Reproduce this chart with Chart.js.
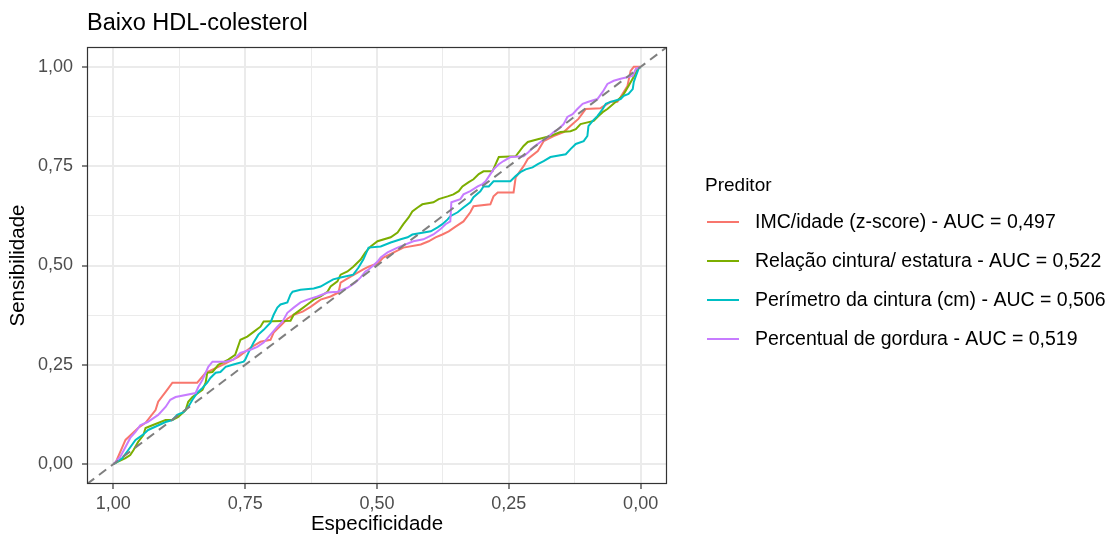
<!DOCTYPE html>
<html>
<head>
<meta charset="utf-8">
<script src="https://cdn.jsdelivr.net/npm/chart.js@4.4.1/dist/chart.umd.min.js"></script>
<style>
  body { margin: 0; background: #ffffff; }
  canvas { display: block; }
</style>
</head>
<body>
<canvas id="roc-chart" width="1117" height="540"></canvas>
<script>
// ROC curves, points are [especificidade, sensibilidade]
const imcPoints = [[1,0],[0.996,0.003],[0.977,0.061],[0.953,0.091],[0.939,0.104],[0.920,0.136],[0.915,0.157],[0.898,0.187],[0.888,0.205],[0.841,0.205],[0.825,0.230],[0.793,0.250],[0.763,0.270],[0.740,0.293],[0.721,0.308],[0.702,0.313],[0.696,0.331],[0.683,0.348],[0.670,0.366],[0.658,0.376],[0.641,0.384],[0.626,0.396],[0.607,0.414],[0.588,0.422],[0.573,0.432],[0.569,0.457],[0.550,0.472],[0.526,0.490],[0.516,0.497],[0.499,0.505],[0.488,0.520],[0.450,0.545],[0.417,0.553],[0.402,0.561],[0.389,0.571],[0.376,0.578],[0.364,0.586],[0.351,0.598],[0.336,0.611],[0.323,0.634],[0.317,0.649],[0.285,0.654],[0.279,0.674],[0.271,0.684],[0.241,0.684],[0.237,0.722],[0.222,0.750],[0.214,0.768],[0.195,0.788],[0.184,0.813],[0.165,0.826],[0.146,0.836],[0.129,0.856],[0.118,0.869],[0.104,0.894],[0.076,0.896],[0.057,0.912],[0.044,0.912],[0.038,0.924],[0.025,0.952],[0.019,0.990],[0.013,1],[0,1]];

const rcePoints = [[1,0],[0.996,0.003],[0.977,0.015],[0.968,0.023],[0.962,0.035],[0.953,0.056],[0.943,0.073],[0.939,0.091],[0.926,0.098],[0.901,0.111],[0.888,0.111],[0.877,0.119],[0.863,0.136],[0.858,0.157],[0.850,0.169],[0.831,0.187],[0.825,0.205],[0.822,0.230],[0.812,0.232],[0.801,0.250],[0.782,0.263],[0.769,0.275],[0.759,0.313],[0.746,0.321],[0.734,0.333],[0.721,0.346],[0.715,0.359],[0.664,0.361],[0.658,0.376],[0.645,0.389],[0.632,0.402],[0.620,0.414],[0.607,0.422],[0.594,0.434],[0.588,0.447],[0.575,0.460],[0.569,0.477],[0.556,0.485],[0.545,0.497],[0.531,0.515],[0.522,0.533],[0.512,0.548],[0.499,0.561],[0.474,0.571],[0.461,0.583],[0.450,0.604],[0.440,0.621],[0.433,0.636],[0.423,0.646],[0.414,0.654],[0.393,0.659],[0.383,0.667],[0.366,0.674],[0.355,0.679],[0.345,0.687],[0.338,0.699],[0.326,0.710],[0.317,0.717],[0.307,0.730],[0.298,0.737],[0.281,0.737],[0.275,0.755],[0.269,0.773],[0.237,0.775],[0.222,0.801],[0.214,0.811],[0.195,0.818],[0.171,0.826],[0.152,0.836],[0.133,0.838],[0.123,0.843],[0.114,0.856],[0.089,0.864],[0.080,0.876],[0.072,0.886],[0.063,0.894],[0.047,0.912],[0.034,0.927],[0.023,0.952],[0.013,0.975],[0.006,0.995],[0,1]];

const pcPoints = [[1,0],[0.996,0.003],[0.983,0.015],[0.972,0.035],[0.958,0.061],[0.945,0.073],[0.934,0.086],[0.901,0.106],[0.888,0.111],[0.879,0.124],[0.867,0.131],[0.858,0.144],[0.850,0.162],[0.841,0.179],[0.831,0.192],[0.822,0.205],[0.816,0.217],[0.806,0.230],[0.797,0.232],[0.787,0.245],[0.774,0.250],[0.753,0.258],[0.750,0.263],[0.744,0.280],[0.734,0.306],[0.725,0.326],[0.715,0.338],[0.702,0.356],[0.696,0.376],[0.689,0.394],[0.683,0.402],[0.670,0.407],[0.664,0.427],[0.660,0.434],[0.645,0.439],[0.620,0.442],[0.607,0.447],[0.594,0.457],[0.583,0.465],[0.569,0.470],[0.545,0.477],[0.535,0.495],[0.526,0.515],[0.516,0.545],[0.493,0.548],[0.474,0.558],[0.455,0.566],[0.442,0.571],[0.433,0.578],[0.398,0.586],[0.385,0.596],[0.376,0.604],[0.366,0.616],[0.361,0.624],[0.347,0.634],[0.336,0.646],[0.323,0.659],[0.317,0.672],[0.304,0.687],[0.298,0.699],[0.288,0.699],[0.279,0.712],[0.247,0.712],[0.237,0.725],[0.228,0.735],[0.218,0.742],[0.205,0.747],[0.195,0.755],[0.184,0.763],[0.171,0.773],[0.142,0.780],[0.133,0.793],[0.123,0.806],[0.108,0.813],[0.101,0.826],[0.099,0.851],[0.091,0.864],[0.082,0.876],[0.072,0.894],[0.066,0.907],[0.057,0.912],[0.038,0.919],[0.032,0.927],[0.023,0.932],[0.015,0.944],[0.013,0.962],[0.009,0.977],[0.004,0.995],[0,1]];

const pgPoints = [[1,0],[0.987,0.018],[0.977,0.043],[0.968,0.066],[0.958,0.081],[0.949,0.098],[0.935,0.106],[0.924,0.116],[0.915,0.124],[0.901,0.144],[0.892,0.162],[0.882,0.169],[0.844,0.179],[0.839,0.194],[0.831,0.212],[0.825,0.230],[0.820,0.245],[0.812,0.258],[0.787,0.258],[0.772,0.263],[0.759,0.280],[0.740,0.288],[0.727,0.295],[0.715,0.306],[0.689,0.346],[0.679,0.359],[0.670,0.381],[0.658,0.394],[0.645,0.407],[0.632,0.414],[0.613,0.422],[0.594,0.432],[0.575,0.434],[0.556,0.444],[0.541,0.457],[0.531,0.470],[0.522,0.485],[0.516,0.490],[0.507,0.500],[0.499,0.510],[0.493,0.520],[0.480,0.533],[0.461,0.545],[0.431,0.561],[0.412,0.566],[0.393,0.578],[0.380,0.591],[0.370,0.604],[0.361,0.611],[0.359,0.659],[0.342,0.667],[0.336,0.679],[0.323,0.687],[0.309,0.699],[0.300,0.705],[0.294,0.712],[0.285,0.730],[0.279,0.742],[0.269,0.755],[0.260,0.763],[0.247,0.773],[0.222,0.775],[0.213,0.785],[0.203,0.798],[0.190,0.811],[0.176,0.823],[0.165,0.836],[0.156,0.843],[0.146,0.856],[0.139,0.874],[0.129,0.881],[0.120,0.894],[0.110,0.907],[0.099,0.912],[0.082,0.919],[0.072,0.937],[0.063,0.957],[0.051,0.965],[0.038,0.970],[0.015,0.977],[0.009,0.995],[0,1]];

// reference diagonal (sens = 1 - spec), across the whole panel
const diagonalPoints = [[1.05,-0.05],[-0.05,1.05]];

const seriesLabels = [
    'IMC/idade (z-score) - AUC = 0,497',
    'Relação cintura/ estatura - AUC = 0,522',
    'Perímetro da cintura (cm) - AUC = 0,506',
    'Percentual de gordura - AUC = 0,519'
];
const seriesColors = ['#F8766D', '#7CAE00', '#00BFC4', '#C77CFF'];
const majorTicks = [0, 0.25, 0.5, 0.75, 1];
const minorTicks = [0.125, 0.375, 0.625, 0.875];

const chartTitle = 'Baixo HDL-colesterol';
const legendTitle = 'Preditor';
const FONT = '"Liberation Sans", Arial, Helvetica, sans-serif';

function toXY(points) {
    return points.map(p => ({ x: p[0], y: p[1] }));
}

function isMajor(v) {
    return majorTicks.some(m => Math.abs(m - v) < 1e-6);
}

function setTicks(scale) {
    scale.ticks = majorTicks.concat(minorTicks).sort((a, b) => a - b).map(v => ({ value: v }));
}

function formatTick(value) {
    return isMajor(value) ? value.toFixed(2).replace('.', ',') : '';
}

// title, panel border and legend drawn ggplot-style
const ggDecor = {
    id: 'ggDecor',
    afterDatasetsDraw(chart) {
        const ctx = chart.ctx;
        const area = chart.chartArea;
        ctx.save();
        ctx.strokeStyle = '#333333';
        ctx.lineWidth = 1.2;
        ctx.strokeRect(area.left + 0.5, area.top + 0.5, area.right - area.left - 1, area.bottom - area.top - 1);
        ctx.restore();
    },
    afterDraw(chart) {
        const ctx = chart.ctx;
        const area = chart.chartArea;
        ctx.save();
        ctx.fillStyle = '#000000';
        ctx.textBaseline = 'alphabetic';
        ctx.textAlign = 'left';
        ctx.font = '23.5px ' + FONT;
        ctx.fillText(chartTitle, area.left, 30);

        // legend
        ctx.font = '19px ' + FONT;
        ctx.fillText(legendTitle, 705, 190.5);
        ctx.font = '19.5px ' + FONT;
        ctx.textBaseline = 'middle';
        seriesLabels.forEach((label, i) => {
            const y = 222 + i * 39;
            ctx.strokeStyle = seriesColors[i];
            ctx.lineWidth = 2;
            ctx.beginPath();
            ctx.moveTo(707, y);
            ctx.lineTo(739, y);
            ctx.stroke();
            ctx.fillStyle = '#000000';
            ctx.fillText(label, 755, y + 1);
        });
        ctx.restore();
    }
};

const curves = [imcPoints, rcePoints, pcPoints, pgPoints];
const datasets = curves.map((pts, i) => ({
    label: seriesLabels[i],
    data: toXY(pts),
    borderColor: seriesColors[i],
    borderWidth: 2,
    pointRadius: 0,
    tension: 0,
    fill: false,
    order: 4 - i   // last series drawn on top, like ggplot
}));
datasets.push({
    label: 'diagonal',
    data: toXY(diagonalPoints),
    borderColor: '#7F7F7F',
    borderWidth: 2,
    borderDash: [9, 6],
    pointRadius: 0,
    fill: false,
    order: 0
});

const ctx = document.getElementById('roc-chart').getContext('2d');
new Chart(ctx, {
    type: 'line',
    data: { datasets: datasets },
    options: {
        responsive: false,
        animation: false,
        devicePixelRatio: 1,
        layout: { padding: { top: 47, right: 450, bottom: 0, left: 0 } },
        plugins: {
            legend: { display: false },
            title: { display: false },
            tooltip: { enabled: false }
        },
        scales: {
            x: {
                type: 'linear',
                reverse: true,
                min: -0.05,
                max: 1.05,
                afterBuildTicks: setTicks,
                afterFit: s => { s.height = 56; },
                border: { display: false },
                grid: {
                    color: '#EBEBEB',
                    lineWidth: c => (c.tick && isMajor(c.tick.value)) ? 2 : 1,
                    tickColor: c => (c.tick && isMajor(c.tick.value)) ? '#333333' : 'rgba(0,0,0,0)',
                    tickWidth: 1.2,
                    tickLength: 5
                },
                ticks: {
                    autoSkip: false,
                    maxRotation: 0,
                    padding: 4,
                    color: '#4D4D4D',
                    font: { family: FONT, size: 18 },
                    callback: formatTick
                },
                title: {
                    display: true,
                    text: 'Especificidade',
                    color: '#000000',
                    font: { family: FONT, size: 20.5 },
                    padding: { top: 0, bottom: 3 }
                }
            },
            y: {
                type: 'linear',
                min: -0.05,
                max: 1.05,
                afterBuildTicks: setTicks,
                afterFit: s => { s.width = 87; },
                border: { display: false },
                grid: {
                    color: '#EBEBEB',
                    lineWidth: c => (c.tick && isMajor(c.tick.value)) ? 2 : 1,
                    tickColor: c => (c.tick && isMajor(c.tick.value)) ? '#333333' : 'rgba(0,0,0,0)',
                    tickWidth: 1.2,
                    tickLength: 5
                },
                ticks: {
                    autoSkip: false,
                    padding: 9,
                    color: '#4D4D4D',
                    font: { family: FONT, size: 18 },
                    callback: formatTick
                },
                title: {
                    display: true,
                    text: 'Sensibilidade',
                    color: '#000000',
                    font: { family: FONT, size: 20.5 },
                    padding: { top: 6, bottom: 0 }
                }
            }
        }
    },
    plugins: [ggDecor]
});
</script>
</body>
</html>
